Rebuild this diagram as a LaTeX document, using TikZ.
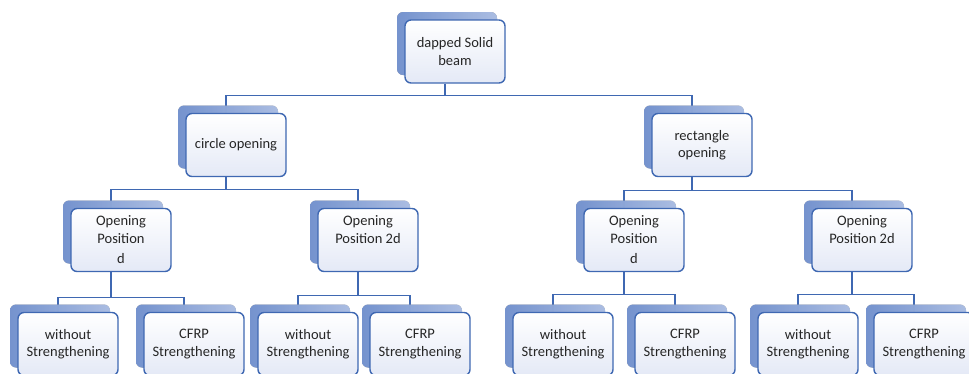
\documentclass[tikz,border=0pt]{standalone}
\usepackage{fontspec}
\setmainfont{Carlito}
\usetikzlibrary{shadows,backgrounds}
\definecolor{boxline}{HTML}{3F68B2}
\definecolor{boxfill}{HTML}{E4E9F6}
\definecolor{shadedark}{HTML}{7394D6}
\definecolor{shadelight}{HTML}{AEC2EC}
\definecolor{textcol}{HTML}{262626}

\begin{document}
\begin{tikzpicture}[x=1pt,y=-1pt,
  item/.style={draw=boxline, line width=1.4pt, rounded corners=6pt,
    top color=white, bottom color=boxfill,
    minimum width=100pt, minimum height=63pt, inner sep=1pt,
    align=center, text=textcol, font=\fontsize{14.5}{17.5}\selectfont,
    drop shadow={shadow xshift=-8pt, shadow yshift=8pt, draw=none,
      rounded corners=3pt, left color=shadedark, right color=shadelight,
      opacity=0.9}},
  link/.style={draw=boxline, line width=1.4pt}]
\useasboundingbox (0,0) rectangle (969,373);
\clip (0,0) rectangle (969,373);

% top
\node[item] (beam) at (455,51.5) {dapped Solid\\beam};

% kind of opening
\node[item] (circ) at (236,145) {circle opening};
\node[item] (rect) at (702,145) {rectangle\\opening};

% opening position
\node[item] (circd) at (121,240) {Opening\\Position\\[3pt]d};
\node[item] (circtwod) at (368,240) {Opening\\Position 2d\\[3pt]~};
\node[item] (rectd) at (634,240) {Opening\\Position\\[3pt]d};
\node[item] (recttwod) at (862,240) {Opening\\Position 2d\\[3pt]~};

% strengthening
\node[item] (wa) at (68,344) {without\\Strengthening};
\node[item] (ca) at (194,344) {CFRP\\Strengthening};
\node[item] (wb) at (308,344) {without\\Strengthening};
\node[item] (cb) at (420,344) {CFRP\\Strengthening};
\node[item] (wc) at (563,344) {without\\Strengthening};
\node[item] (cc) at (685,344) {CFRP\\Strengthening};
\node[item] (wd) at (808,344) {without\\Strengthening};
\node[item] (cd) at (924,344) {CFRP\\Strengthening};

% connectors
\begin{scope}[on background layer]
\draw[link] ([xshift=-10pt]beam.south) -- ++(0,12) -| ([xshift=-10pt]circ.north);
\draw[link] ([xshift=-10pt]beam.south) -- ++(0,12) -| ([xshift=-10pt]rect.north);
\draw[link] ([xshift=-10pt]circ.south) -- ++(0,12) -| ([xshift=-10pt]circd.north);
\draw[link] ([xshift=-10pt]circ.south) -- ++(0,12) -| ([xshift=-10pt]circtwod.north);
\draw[link] ([xshift=-10pt]rect.south) -- ++(0,13) -| ([xshift=-10pt]rectd.north);
\draw[link] ([xshift=-10pt]rect.south) -- ++(0,13) -| ([xshift=-10pt]recttwod.north);
\draw[link] ([xshift=-10pt]circd.south) -- ++(0,25) -| ([xshift=-10pt]wa.north);
\draw[link] ([xshift=-10pt]circd.south) -- ++(0,25) -| ([xshift=-10pt]ca.north);
\draw[link] ([xshift=-10pt]circtwod.south) -- ++(0,23) -| ([xshift=-10pt]wb.north);
\draw[link] ([xshift=-10pt]circtwod.south) -- ++(0,23) -| ([xshift=-10pt]cb.north);
\draw[link] ([xshift=-10pt]rectd.south) -- ++(0,22) -| ([xshift=-10pt]wc.north);
\draw[link] ([xshift=-10pt]rectd.south) -- ++(0,22) -| ([xshift=-10pt]cc.north);
\draw[link] ([xshift=-10pt]recttwod.south) -- ++(0,22) -| ([xshift=-10pt]wd.north);
\draw[link] ([xshift=-10pt]recttwod.south) -- ++(0,22) -| ([xshift=-10pt]cd.north);
\end{scope}
\end{tikzpicture}
\end{document}
